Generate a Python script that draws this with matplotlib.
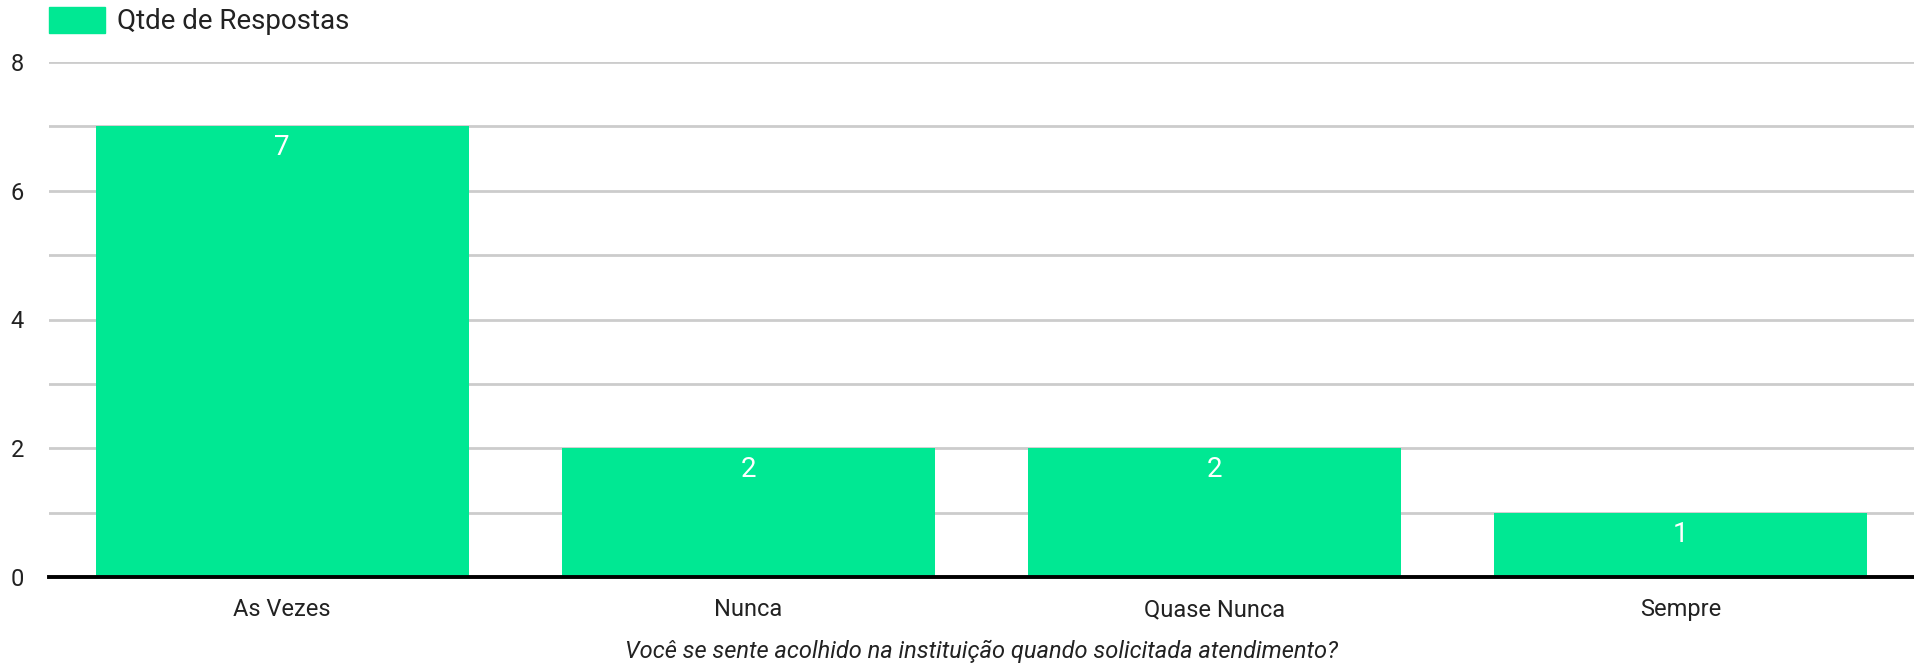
import matplotlib.pyplot as plt
from matplotlib.patches import Patch

# dados
categorias = ['As Vezes', 'Nunca', 'Quase Nunca', 'Sempre']
respostas = [7, 2, 2, 1]
yticks = [0, 2, 4, 6, 8]

cor = '#00e893'
plt.rcParams['font.family'] = ['Roboto', 'DejaVu Sans']

W, H = 1914, 663
fig = plt.figure(figsize=(W / 100, H / 100), dpi=100)
ax = fig.add_axes([49 / W, (H - 577) / H, (W - 49) / W, (577 - 62) / H])

x = range(len(categorias))
bars = ax.bar(x, respostas, width=0.8, color=cor, zorder=2)
for b, v in zip(bars, respostas):
    ax.annotate(str(v), (b.get_x() + b.get_width() / 2, v), xytext=(0, -8),
                textcoords='offset pixels', ha='center', va='top',
                color='white', fontsize=20, zorder=3)

ax.set_xlim(-0.5, len(categorias) - 0.5)
ax.set_ylim(0, 8)
ax.set_yticks(yticks)
ax.set_yticks(range(0, 9), minor=True)
ax.grid(axis='y', which='both', color='#cccccc', linewidth=2, zorder=0)
ax.set_xticks(list(x))
ax.set_xticklabels(categorias)
ax.tick_params(axis='x', length=0, pad=15, labelsize=17, colors='#222222')
ax.tick_params(axis='y', which='both', length=0, pad=18, labelsize=17, colors='#222222')
for s in ['top', 'right', 'left']:
    ax.spines[s].set_visible(False)
ax.spines['bottom'].set_linewidth(2.8)
ax.spines['bottom'].set_zorder(4)
ax.set_xlabel('Você se sente acolhido na instituição quando solicitada atendimento?',
              fontsize=17, style='italic', labelpad=14, color='#222222')

fig.legend(handles=[Patch(color=cor, label='Qtde de Respostas')],
           loc='upper left', bbox_to_anchor=(49 / W, 1 - 7 / H), frameon=False,
           fontsize=20, handlelength=2.0, handleheight=1.05, handletextpad=0.45,
           borderpad=0, borderaxespad=0, labelcolor='#222222')

fig.savefig('out.png', dpi=100)
